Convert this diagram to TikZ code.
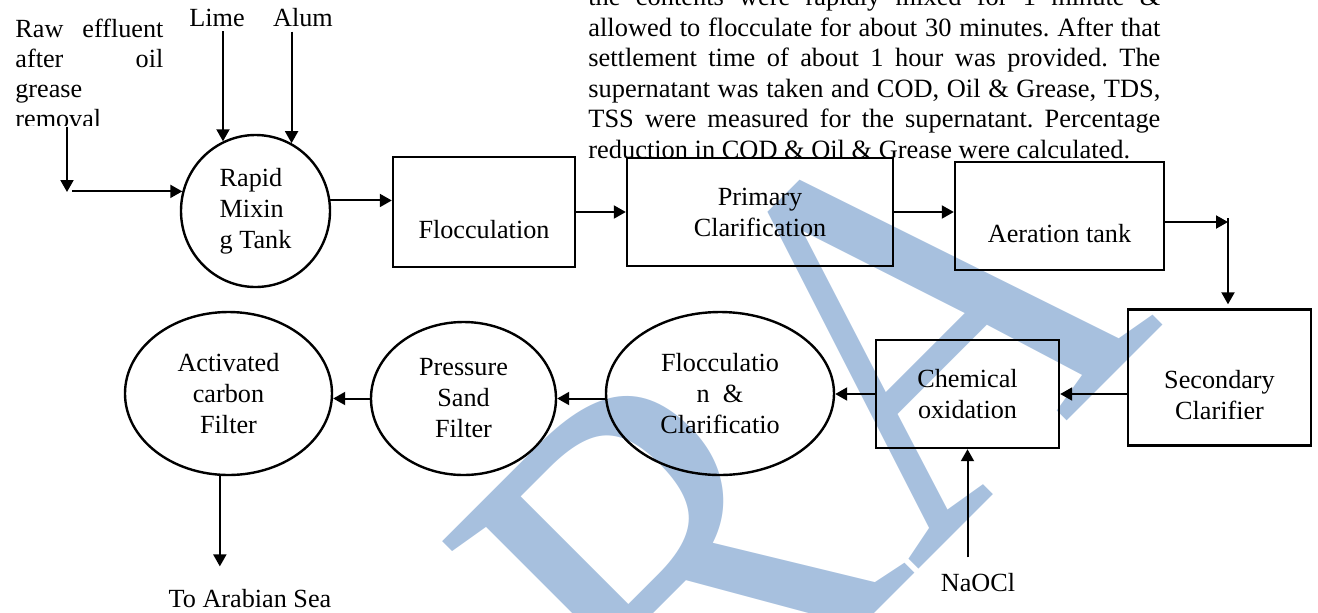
\documentclass[tikz,border=0pt]{standalone}
\usepackage{fontspec}
\setmainfont{Liberation Serif}
\newfontfamily\markfont[FakeStretch=0.9]{Liberation Serif}
\usetikzlibrary{arrows.meta, shapes.geometric}
\definecolor{wmblue}{RGB}{167,192,222}

\begin{document}
\begin{tikzpicture}[x=0.5pt, y=-0.5pt,
    font=\fontsize{13.1}{15.5}\selectfont,
    arr/.style={-{Triangle[length=6pt, width=6.5pt]}, line width=1pt},
    procbox/.style={draw, line width=1.2pt, rectangle, inner sep=0pt, align=center},
    tank/.style={draw, line width=1.2pt, ellipse, inner sep=0pt, align=center},
    lowtext/.style={align=center, inner sep=0pt, yshift=-8.6pt},
    lbl/.style={inner sep=2pt}]
  \useasboundingbox (0,0) rectangle (1318,612);

  % watermark behind the chart
  \node[text=wmblue, font=\markfont\fontsize{272}{272}\selectfont, rotate=45, anchor=base east, inner sep=0pt] (mark) at (1166,322) {RA};

  % running text of the page
  \node[anchor=north west, text width=286pt, align=justify, inner sep=0pt, font=\fontsize{13.2}{15.25}\selectfont\frenchspacing] (para) at (588,-13)
    {the contents were rapidly mixed for 1 minute \&\linebreak
     allowed to flocculate for about 30 minutes. After that\linebreak
     settlement time of about 1 hour was provided. The\linebreak
     supernatant was taken and COD, Oil \& Grease, TDS,\linebreak
     TSS were measured for the supernatant. Percentage\linebreak
     reduction in COD \& Oil \& Grease were calculated.};

  \begin{scope}
    \clip (0,0) rectangle (200,125);
    \node[anchor=north west, text width=74pt, align=justify, inner sep=0pt, font=\fontsize{13.1}{15}\selectfont] (raw) at (15,19)
      {Raw effluent\linebreak after oil\linebreak grease\newline removal};
  \end{scope}

  \node[lbl] (lime) at (217,18) {Lime};
  \node[lbl] (alum) at (303,18) {Alum};

  \node[tank, minimum width=74.5pt, minimum height=76pt, align=left] (mix) at (255.5,211) {Rapid\\Mixin\\g Tank};
  \node[procbox, minimum width=91pt, minimum height=55pt, label={[lowtext]center:Flocculation}] (floc) at (484,212) {};
  \node[procbox, minimum width=133pt, minimum height=54pt] (prim) at (760,212) {Primary\\Clarification};
  \node[procbox, minimum width=104.5pt, minimum height=54pt, label={[lowtext]center:Aeration tank}] (aer) at (1059.5,216) {};
  \node[procbox, minimum width=91.5pt, minimum height=68pt, label={[lowtext]center:Secondary\\Clarifier}] (sec) at (1219.5,377.5) {};
  \node[procbox, minimum width=91.5pt, minimum height=54pt] (chem) at (967.5,394) {Chemical\\oxidation};
  \node[tank, minimum width=114pt, minimum height=81.5pt] (flocclar) at (720,393.5) {Flocculatio\\n~~\&\\Clarificatio};
  \node[tank, minimum width=92.5pt, minimum height=76.5pt] (press) at (463.5,398.5) {Pressure\\Sand\\Filter};
  \node[tank, minimum width=103.5pt, minimum height=81.5pt] (act) at (228.5,393.5) {Activated\\carbon\\Filter};

  \node[lbl] (sea) at (250,599) {To Arabian Sea};
  \node[lbl] (naocl) at (978,583) {NaOCl};

  \coordinate (rawend) at (67,127);
  \coordinate (bend) at (67,192);
  \coordinate (turn) at (1228,222);

  \draw[arr] (rawend) -- (bend);
  \draw[arr] ([xshift=2.5pt]mix.165 -| bend) -- (mix.165);
  \draw[arr] (mix.115 |- lime.south) -- (mix.115);
  \draw[arr] (mix.62 |- alum.south) -- (mix.62);
  \draw[arr] (mix.8) -- (mix.8 -| floc.west);
  \draw[arr] (floc) -- (prim);
  \draw[arr] (prim.east) -- (prim.east -| aer.west);
  \draw[arr] (aer.east |- turn) -- (turn);
  \draw[arr, shorten >=2pt] ([yshift=2pt]turn) -- (turn |- sec.north);
  \draw[arr] (sec.west |- chem.east) -- (chem.east);
  \draw[arr] (chem.west) -- (chem.west -| flocclar.east);
  \draw[arr] (flocclar.west |- press.east) -- (press.east);
  \draw[arr] (press.west) -- (press.west -| act.east);
  \draw[arr, shorten >=9.5pt] (act.264) -- (act.264 |- sea.north);
  \draw[arr, shorten <=6pt] (chem.south |- naocl.north) -- (chem.south);
\end{tikzpicture}
\end{document}
